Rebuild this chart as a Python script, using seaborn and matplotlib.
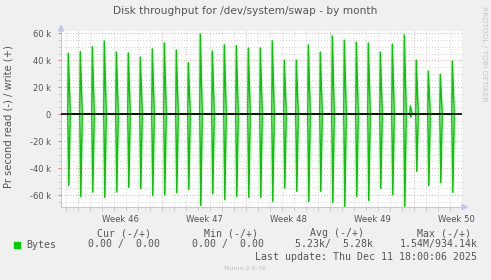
import numpy as np
import pandas as pd
import matplotlib
matplotlib.use("Agg")
import matplotlib.pyplot as plt
import matplotlib.dates as mdates
from matplotlib.patches import Rectangle, Polygon
import seaborn as sns

# ---------------- data ----------------
spike_days = pd.date_range("2025-11-09 04:00", periods=33, freq="D")
write_peak_k = [45.2, 46.4, 50.0, 54.3, 46.1, 45.4, 42.4, 48.4, 52.8, 47.6, 38.2,
                59.5, 46.9, 51.5, 50.7, 49.1, 49.1, 54.4, 40.0, 40.0, 51.3, 46.1,
                58.1, 54.9, 53.4, 52.8, 46.1, 52.0, 58.8, 40.1, 32.0, 29.6, 39.5]
read_peak_k = [52.9, 61.0, 57.8, 61.7, 57.8, 54.3, 55.3, 60.3, 59.8, 58.3, 55.8,
               67.7, 59.0, 63.5, 61.0, 61.7, 61.7, 64.7, 54.8, 57.3, 64.7, 57.3,
               65.5, 68.5, 61.0, 64.0, 55.1, 59.8, 68.4, 42.5, 52.9, 50.9, 58.0]
extra_time = [pd.Timestamp("2025-12-07 16:00")]
extra_write_k = [6.1]
extra_read_k = [2.0]

week_starts = pd.to_datetime(["2025-11-10", "2025-11-17", "2025-11-24", "2025-12-01", "2025-12-08"])
week_labels = ["Week 46", "Week 47", "Week 48", "Week 49", "Week 50"]
y_major = [-60000, -40000, -20000, 0, 20000, 40000, 60000]
y_labels = ["-60 k", "-40 k", "-20 k", "0", "20 k", "40 k", "60 k"]

legend_head = ["Cur (-/+)", "Min (-/+)", "Avg (-/+)", "Max (-/+)"]
legend_vals = ["0.00 /  0.00", "0.00 /  0.00", "5.23k/  5.28k", "1.54M/934.14k"]
series_name = "Bytes"
last_update = "Last update: Thu Dec 11 18:00:06 2025"

# ------------- build series -------------
times = list(spike_days) + extra_time
wk = write_peak_k + extra_write_k
rk = read_peak_k + extra_read_k
order = np.argsort(times)
h = pd.Timedelta(hours=1)
wrows, rrows = [], []
for i in order:
    t = times[i]
    wrows += [(t - h, 0.0), (t, wk[i] * 1000), (t + 4 * h, 0.0)]
    rrows += [(t - h, 0.0), (t + h, -rk[i] * 1000), (t + 4 * h, 0.0)]
dfw = pd.DataFrame(wrows, columns=["time", "value"])
dfr = pd.DataFrame(rrows, columns=["time", "value"])

# ------------- figure -------------
W, H = 491, 280
fig = plt.figure(figsize=(W / 100, H / 100), dpi=100, facecolor="#F0F0F0")
L, R, T, B = 60.5, 462, 31, 207
ax = fig.add_axes([L / W, 1 - B / H, (R - L) / W, (B - T) / H])
ax.set_facecolor("white")

green = "#00CC00"
sns.lineplot(data=dfw, x="time", y="value", color=green, linewidth=1.1,
             estimator=None, sort=False, ax=ax, zorder=2)
sns.lineplot(data=dfr, x="time", y="value", color=green, linewidth=1.1,
             estimator=None, sort=False, ax=ax, zorder=2)
ax.axhline(0, color="black", lw=1.2, zorder=3)

x0 = pd.Timestamp("2025-11-08 12:24")
x1 = pd.Timestamp("2025-12-11 23:24")
ax.set_xlim(mdates.date2num(x0), mdates.date2num(x1))
ax.set_ylim(-68900, 61700)

grey = "#d2d2d2"
red = "#f2a0a0"
dot = (0, (1, 2))

# y grid
ax.set_yticks(y_major)
ax.set_yticklabels(y_labels)
ax.set_yticks(np.arange(-65000, 61000, 5000), minor=True)
ax.grid(which="minor", axis="y", color=grey, linestyle=dot, lw=0.7, zorder=0)
ax.grid(which="major", axis="y", color=red, linestyle=dot, lw=0.7, zorder=0)

# x grid
days = pd.date_range("2025-11-09", "2025-12-11", freq="D")
ax.set_xticks(mdates.date2num(days), minor=True)
ax.grid(which="minor", axis="x", color=grey, linestyle=dot, lw=0.7, zorder=0)
for ws in week_starts:
    ax.axvline(mdates.date2num(ws), color=red, linestyle=dot, lw=0.7, zorder=1)
centers = [ws + pd.Timedelta(days=3, hours=13) for ws in week_starts]
ax.set_xticks(mdates.date2num(centers))
ax.set_xticklabels(week_labels)
ax.set_xlabel("")
ax.set_ylabel("")

txt = "#555555"
ax.tick_params(axis="x", which="major", length=0, pad=5.5, labelsize=6.1, labelcolor=txt)
ax.tick_params(axis="x", which="minor", length=3, color="#c8c8c8", direction="out")
for tk, d in zip(ax.xaxis.get_minor_ticks(), days):
    if d in set(week_starts):
        tk.tick1line.set_color("#f08080")
ax.tick_params(axis="y", which="major", length=2, color="#f08080", pad=5,
               labelsize=6.0, labelcolor=txt)
ax.tick_params(axis="y", which="minor", length=2, color="#c8c8c8")

for s in ["top", "right"]:
    ax.spines[s].set_visible(False)
axc = "#c4c4f0"
ax.spines["left"].set_color(axc)
ax.spines["bottom"].set_color(axc)

# arrows
def fpoly(pts, color):
    fig.patches.append(Polygon([(x / W, 1 - y / H) for x, y in pts], closed=True,
                               transform=fig.transFigure, color=color, zorder=5))
fpoly([(58.5, 31), (63.5, 31), (61, 25.5)], axc)
fpoly([(462, 204.5), (462, 209.5), (467.5, 207)], axc)
fig.add_artist(plt.Line2D([R / W, 462 / W], [1 - B / H, 1 - B / H], color=axc, lw=1,
                          transform=fig.transFigure))

# texts
fig.text(245 / W, 1 - 11 / H, "Disk throughput for /dev/system/swap - by month",
         ha="center", va="center", fontsize=7.6, color=txt)
fig.text(9 / W, 1 - 117 / H, "Pr second read (-) / write (+)", rotation=90,
         ha="center", va="center", fontsize=7.2, color=txt)
fig.text(484 / W, 1 - 54 / H, "RRDTOOL / TOBI OETIKER", rotation=270,
         ha="center", va="center", fontsize=5.4, color="#c8c8c8")

mono = "DejaVu Sans Mono"
head_x = [96.7, 203.7, 310, 416.7]
val_x = [88.3, 192.3, 295.3, 399.3]
for hx, s in zip(head_x, legend_head):
    fig.text(hx / W, 1 - 233 / H, s, family=mono, fontsize=7.1, color=txt, ha="left", va="center")
for vx, s in zip(val_x, legend_vals):
    fig.text(vx / W, 1 - 244.5 / H, s, family=mono, fontsize=7.1, color=txt, ha="left", va="center")
fig.patches.append(Rectangle((14 / W, 1 - 248 / H), 6 / W, 6 / H, transform=fig.transFigure,
                             color=green))
fig.text(26.7 / W, 1 - 244.5 / H, series_name, family=mono, fontsize=7.1, color=txt,
         ha="left", va="center")
fig.text(477 / W, 1 - 257 / H, last_update, family=mono, fontsize=7.1, color=txt,
         ha="right", va="center")
fig.text(245 / W, 1 - 268.5 / H, "Munin 2.0.76", ha="center", va="center",
         fontsize=4.6, color="#c0c0c0")

fig.savefig("out.png", dpi=100, facecolor=fig.get_facecolor())
